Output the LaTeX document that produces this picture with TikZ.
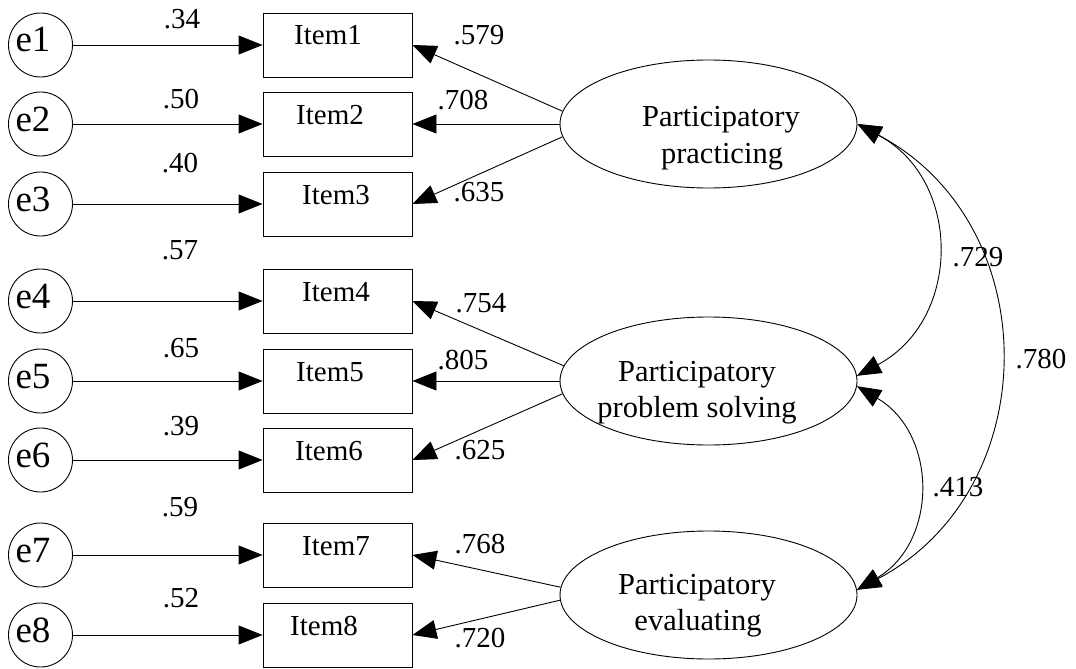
\documentclass[tikz,border=0pt]{standalone}
\usepackage{fontspec}
\setmainfont{Liberation Serif}
\usetikzlibrary{arrows.meta,shapes.geometric}
\begin{document}
\begin{tikzpicture}[x=1pt,y=-1pt,
  errc/.style={draw,circle,minimum size=64pt,inner sep=0pt,line width=0.9pt},
  itembox/.style={draw,rectangle,minimum width=149pt,minimum height=64pt,inner sep=0pt,line width=0.9pt},
  lat/.style={draw,ellipse,minimum width=297pt,minimum height=128pt,inner sep=0pt,line width=0.9pt},
  etxt/.style={inner sep=0pt,anchor=base,font=\fontsize{37}{40}\selectfont},
  itxt/.style={inner sep=0pt,anchor=base,font=\fontsize{29}{32}\selectfont},
  ltxt/.style={inner sep=0pt,anchor=base,font=\fontsize{30.5}{34}\selectfont},
  coef/.style={inner sep=0pt,font=\fontsize{29}{32}\selectfont},
  path1/.style={line width=0.9pt,-{Triangle[length=24pt,width=19pt]}},
  cov/.style={line width=0.9pt,{Triangle[length=24pt,width=19pt]}-{Triangle[length=24pt,width=19pt]}}
]
\useasboundingbox (0,0) rectangle (1076,669);

% error circles
\node[errc] (e1) at (40.5,45) {};
\node[errc] (e2) at (40.5,124) {};
\node[errc] (e3) at (40.5,204) {};
\node[errc] (e4) at (40.5,301) {};
\node[errc] (e5) at (40.5,381) {};
\node[errc] (e6) at (40.5,460) {};
\node[errc] (e7) at (40.5,555) {};
\node[errc] (e8) at (40.5,635) {};
\node[etxt] (te1) at (33,52) {e1};
\node[etxt] (te2) at (33,131) {e2};
\node[etxt] (te3) at (33,211) {e3};
\node[etxt] (te4) at (33,308) {e4};
\node[etxt] (te5) at (33,388) {e5};
\node[etxt] (te6) at (33,467) {e6};
\node[etxt] (te7) at (33,562) {e7};
\node[etxt] (te8) at (33,642) {e8};

% item boxes
\node[itembox] (i1) at (337.5,45) {};
\node[itembox] (i2) at (337.5,124) {};
\node[itembox] (i3) at (337.5,204) {};
\node[itembox] (i4) at (337.5,301) {};
\node[itembox] (i5) at (337.5,381) {};
\node[itembox] (i6) at (337.5,460) {};
\node[itembox] (i7) at (337.5,555) {};
\node[itembox] (i8) at (337.5,635) {};
\node[itxt] (ti1) at (328,45) {Item1};
\node[itxt] (ti2) at (330,124) {Item2};
\node[itxt] (ti3) at (336,204) {Item3};
\node[itxt] (ti4) at (336,301) {Item4};
\node[itxt] (ti5) at (330,381) {Item5};
\node[itxt] (ti6) at (329,460) {Item6};
\node[itxt] (ti7) at (336,555) {Item7};
\node[itxt] (ti8) at (324,635) {Item8};

% latent ellipses
\node[lat] (f1) at (708.5,124) {};
\node[lat] (f2) at (708.5,381) {};
\node[lat] (f3) at (708.5,595) {};
\node[ltxt] (f1a) at (721,126) {Participatory};
\node[ltxt] (f1b) at (722,163) {practicing};
\node[ltxt] (f2a) at (697,381) {Participatory};
\node[ltxt] (f2b) at (697,417) {problem solving};
\node[ltxt] (f3a) at (697,594) {Participatory};
\node[ltxt] (f3b) at (698,630) {evaluating};

% error paths
\foreach \k in {1,...,8} {\draw[path1] (e\k) -- (i\k);}

% loadings
\draw[path1] (f1.175.3) -- (i1.east);
\draw[path1] (f1.west) -- (i2.east);
\draw[path1] (f1.185.1) -- (i3.east);
\draw[path1] (f2.174.9) -- (i4.east);
\draw[path1] (f2.west) -- (i5.east);
\draw[path1] (f2.185.5) -- (i6.east);
\draw[path1] (f3.177.3) -- (i7.east);
\draw[path1] (f3.182.7) -- (i8.east);

% covariances
\draw[cov] (f1.east) .. controls +(105,56) and +(105,-56) .. (f2.2);
\draw[cov] (f1.east) .. controls +(189,100) and +(189,-100) .. (f3.2);
\draw[cov] (f2.-2) .. controls +(81,48) and +(81,-48) .. (f3.2);

% coefficients (error)
\node[coef] (c1) at (182,19) {.34};
\node[coef] (c2) at (181,99) {.50};
\node[coef] (c3) at (180,163) {.40};
\node[coef] (c4) at (180,250) {.57};
\node[coef] (c5) at (181,348) {.65};
\node[coef] (c6) at (181,426) {.39};
\node[coef] (c7) at (180,507) {.59};
\node[coef] (c8) at (181,598) {.52};

% coefficients (loadings)
\node[coef] (l1) at (479,35) {.579};
\node[coef] (l2) at (463,100) {.708};
\node[coef] (l3) at (479,192) {.635};
\node[coef] (l4) at (481,303) {.754};
\node[coef] (l5) at (463,360) {.805};
\node[coef] (l6) at (480,450) {.625};
\node[coef] (l7) at (480,544) {.768};
\node[coef] (l8) at (480,638) {.720};

% coefficients (covariances)
\node[coef] (k1) at (978,257) {.729};
\node[coef] (k2) at (1041,359) {.780};
\node[coef] (k3) at (958,487) {.413};
\end{tikzpicture}
\end{document}
